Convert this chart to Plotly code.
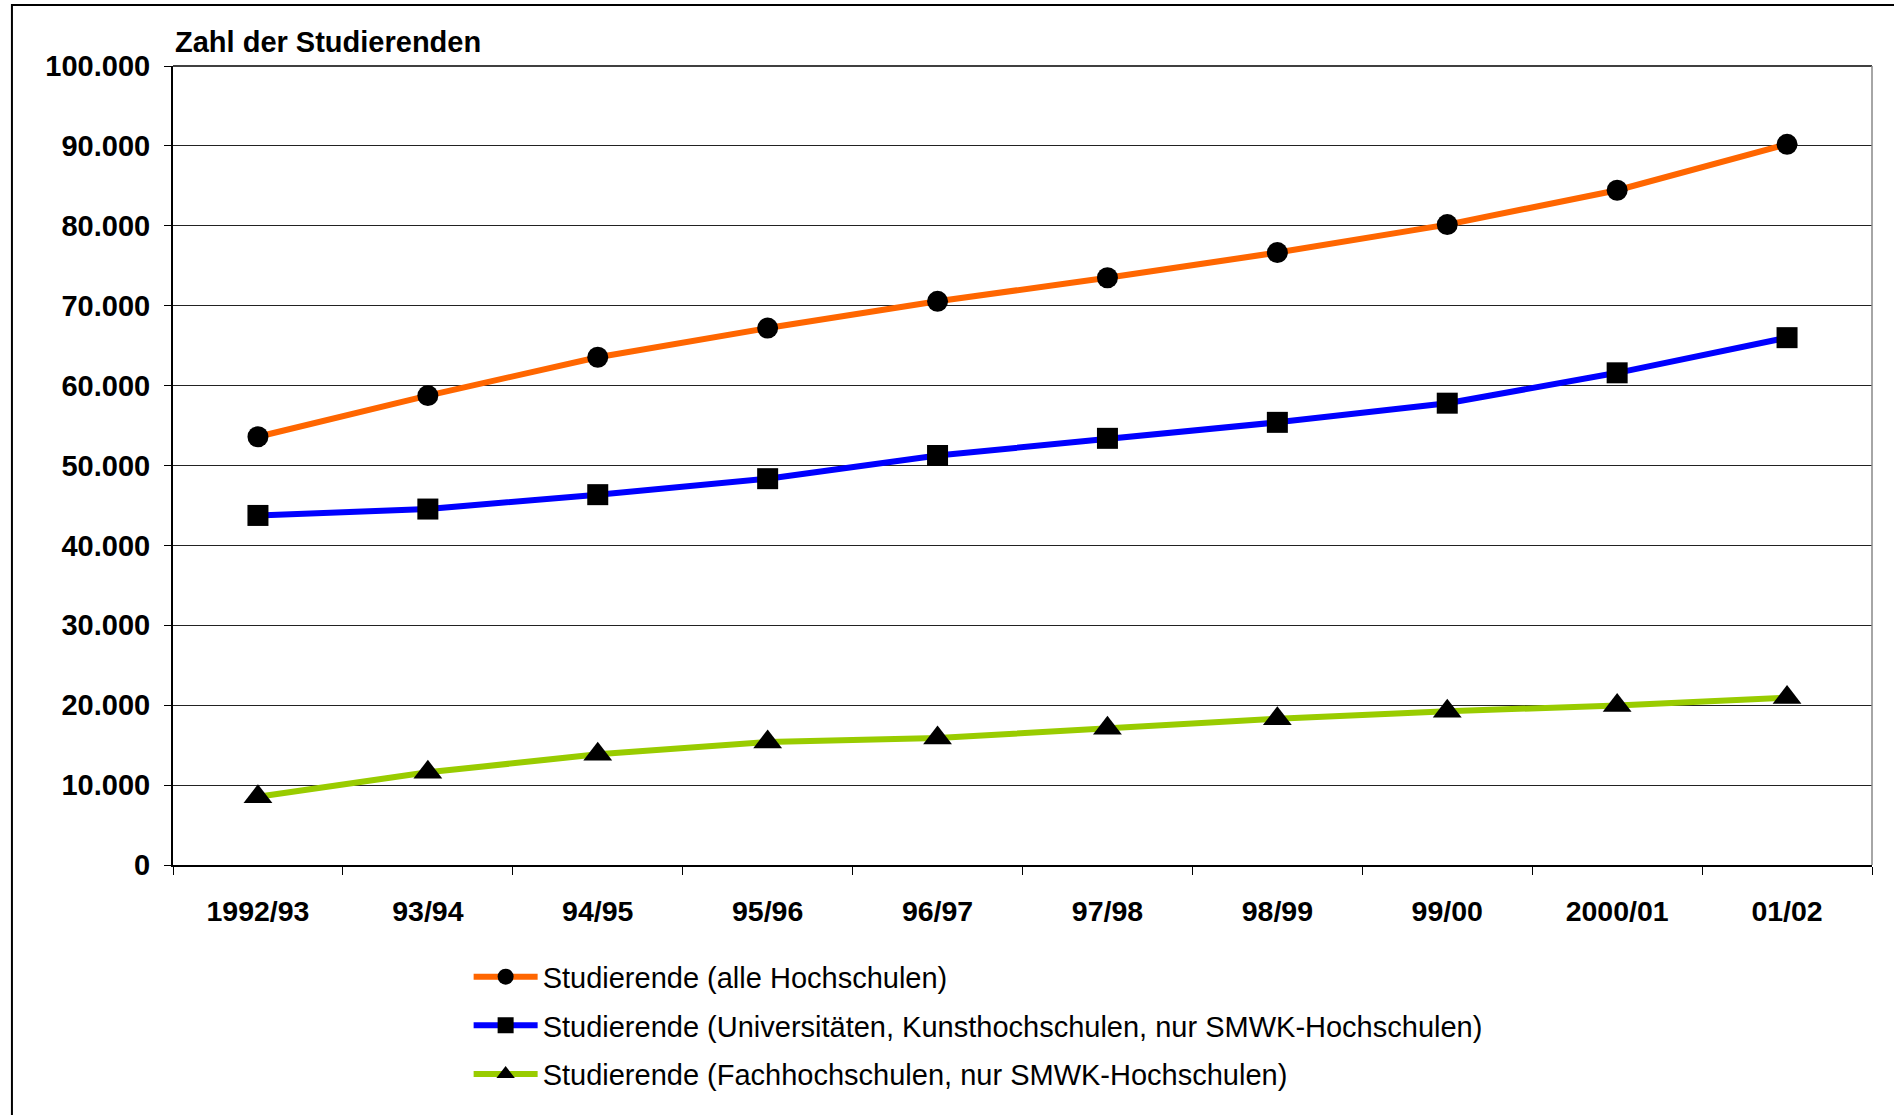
import plotly.graph_objects as go

# Semester labels along the x axis
semester = ["1992/93", "93/94", "94/95", "95/96", "96/97",
            "97/98", "98/99", "99/00", "2000/01", "01/02"]

# Students, all universities
alle_hochschulen = [53600, 58750, 63550, 67200, 70550, 73500, 76650, 80150, 84450, 90200]
# Students, universities and art colleges (SMWK only)
universitaeten = [43750, 44550, 46350, 48350, 51250, 53400, 55400, 57800, 61600, 66000]
# Students, universities of applied sciences (SMWK only)
fachhochschulen = [8550, 11600, 13850, 15400, 15900, 17100, 18300, 19250, 19950, 20950]

series_names = [
    "Studierende (alle Hochschulen)",
    "Studierende (Universitäten, Kunsthochschulen, nur SMWK-Hochschulen)",
    "Studierende (Fachhochschulen, nur SMWK-Hochschulen)",
]

y_ticks = [0, 10000, 20000, 30000, 40000, 50000, 60000, 70000, 80000, 90000, 100000]

FONT = "Liberation Sans, Arial, Helvetica, sans-serif"

fig = go.Figure()

styles = [
    (alle_hochschulen, "#FF6600", "circle", 21),
    (universitaeten, "#0000FF", "square", 21),
    (fachhochschulen, "#99CC00", "triangle-up", 25),
]

for i, ((values, color, symbol, msize), name) in enumerate(zip(styles, series_names)):
    fig.add_trace(go.Scatter(
        x=semester,
        y=values,
        name=name,
        legendgroup=f"g{i}",
        mode="lines+markers",
        line=dict(color=color, width=6),
        marker=dict(symbol=symbol, size=msize, color="black",
                    line=dict(width=0)),
    ))

fig.update_layout(
    width=1894,
    height=1115,
    margin=dict(l=173, r=22, t=66, b=250),
    paper_bgcolor="white",
    plot_bgcolor="white",
    separators=",.",
    font=dict(family=FONT, color="black"),
    showlegend=True,
    legend=dict(
        x=0.174, y=-0.108, xanchor="left", yanchor="top",
        font=dict(family=FONT, size=29, color="black"),
        bgcolor="rgba(0,0,0,0)",
        borderwidth=0,
        traceorder="grouped",
        tracegroupgap=8,
        itemwidth=64,
    ),
)

fig.update_xaxes(
    type="category",
    range=[-0.5, 9.5],
    tickson="boundaries",
    ticks="outside",
    ticklen=8,
    tickwidth=1,
    tickcolor="black",
    showline=True,
    linecolor="black",
    linewidth=2,
    showgrid=False,
    zeroline=False,
    tickfont=dict(family=FONT, size=28.5, color="black", weight="bold"),
    ticklabelstandoff=20,
)

fig.update_yaxes(
    range=[0, 100000],
    tickmode="array",
    tickvals=y_ticks,
    tickformat=",d",
    ticks="outside",
    ticklen=7,
    tickwidth=1,
    tickcolor="black",
    showline=True,
    linecolor="black",
    linewidth=2,
    showgrid=True,
    gridcolor="#222222",
    gridwidth=1,
    zeroline=False,
    tickfont=dict(family=FONT, size=29, color="black", weight="bold"),
    ticklabelstandoff=8,
)

# Frame of the plot area: black top edge, grey right edge
fig.add_shape(type="line", xref="paper", yref="paper",
              x0=0, x1=1, y0=1, y1=1, line=dict(color="black", width=1.5))
fig.add_shape(type="line", xref="paper", yref="paper",
              x0=1, x1=1, y0=0, y1=1, line=dict(color="#888888", width=1.5))

# Outer border around the whole chart
fig.add_shape(type="rect", xref="paper", yref="paper",
              x0=-0.0948, x1=1.03, y0=-0.33, y1=1.0763,
              line=dict(color="black", width=2), layer="below")

# Y axis caption
fig.add_annotation(
    text="<b>Zahl der Studierenden</b>",
    xref="paper", yref="paper", x=0, y=1,
    xanchor="left", yanchor="middle", yshift=24, xshift=0,
    showarrow=False,
    font=dict(family=FONT, size=29, color="black"),
)

fig.write_html("out.html")
